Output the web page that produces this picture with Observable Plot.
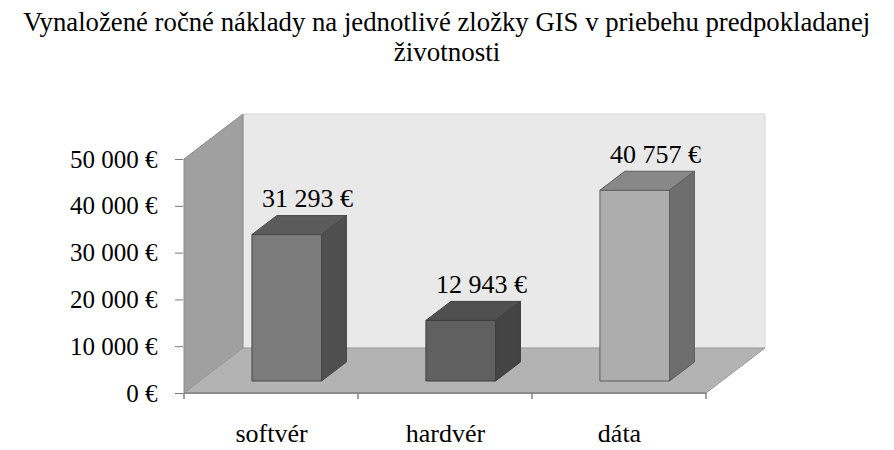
<!DOCTYPE html>
<html><head><meta charset="utf-8">
<script src="https://cdn.jsdelivr.net/npm/d3@7"></script>
<script src="https://cdn.jsdelivr.net/npm/@observablehq/plot@0.6"></script>
<style>
body{margin:0;background:#fff;width:894px;height:450px;overflow:hidden;font-family:"Liberation Serif","Times New Roman",serif;}
#title{height:80px;box-sizing:border-box;padding-top:7px;text-align:center;font-size:27px;line-height:30px;color:#000;white-space:nowrap;}
#title span{display:inline-block;}
#chart svg{display:block;}
</style></head><body>
<div id="title"><span id="t1">Vynaložené ročné náklady na jednotlivé zložky GIS v priebehu predpokladanej</span><br><span id="t2">životnosti</span></div>
<div id="chart"></div>
<script>
// ---- data ----
const categories = ["softvér", "hardvér", "dáta"];
const values = [31293, 12943, 40757];
const yTicks = [0, 10000, 20000, 30000, 40000, 50000];

// ---- styles ----
const frontColors = ["#7b7b7b", "#606060", "#adadad"];
const topColors = ["#5b5b5b", "#505050", "#888888"];
const sideColors = ["#4f4f4f", "#444444", "#6e6e6e"];
const strokeColors = ["#4a4a4a", "#3e3e3e", "#5e5e5e"];

const data = categories.map((c, i) => ({category: c, value: values[i]}));
const fmt = v => d3.format(",")(v).replace(/,/g, "\u00a0") + "\u00a0€";

// 3D box geometry (pixels)
const DX = 59, DY = 45;      // depth of the chart box
const F = 12 / 45;           // bar front position as depth fraction
const B = 19 / 45;           // bar depth as fraction
const BARW = 0.40;           // bar width as band fraction

const NS = "http://www.w3.org/2000/svg";
function el(tag, attrs) {
  const e = document.createElementNS(NS, tag);
  for (const k in attrs) e.setAttribute(k, attrs[k]);
  return e;
}
function poly(g, pts, fill, stroke, sw = 1) {
  g.appendChild(el("polygon", {points: pts.map(p => p.join(",")).join(" "), fill, stroke, "stroke-width": sw, "stroke-linejoin": "round"}));
}

function renderWalls(index, scales) {
  const g = el("g", {});
  const x = scales.x, y = scales.y;
  const bw = x(categories[1]) - x(categories[0]);
  const xl = x(categories[0]), xr = x(categories[categories.length - 1]) + bw;
  const y0 = y(0), y1 = y(yTicks[yTicks.length - 1]);
  poly(g, [[xl + DX, y0 - DY], [xr + DX, y0 - DY], [xr + DX, y1 - DY], [xl + DX, y1 - DY]], "#e9e9e9", "#d6d6d6");
  poly(g, [[xl, y0], [xl, y1], [xl + DX, y1 - DY], [xl + DX, y0 - DY]], "#a0a0a0", "#8a8a8a");
  poly(g, [[xl, y0], [xr, y0], [xr + DX, y0 - DY], [xl + DX, y0 - DY]], "#b3b3b3", "#9a9a9a");
  g.appendChild(el("line", {x1: xl, x2: xr, y1: y0, y2: y0, stroke: "#8c8c8c", "stroke-width": 2}));
  const bounds = categories.map(c => x(c)).concat([xr]);
  for (const xb of bounds) {
    g.appendChild(el("line", {x1: xb, x2: xb, y1: y0, y2: y0 + 6, stroke: "#808080", "stroke-width": 1.5}));
  }
  return g;
}

function renderBars(index, scales) {
  const g = el("g", {});
  const x = scales.x, y = scales.y;
  const bw = x(categories[1]) - x(categories[0]);
  for (const i of index) {
    const d = data[i];
    const w = BARW * bw;
    const cx = x(d.category) + bw / 2 + F * DX;
    const l = cx - w / 2, r = cx + w / 2;
    const yb = y(0) - F * DY, yt = y(d.value) - F * DY;
    const bx = B * DX, by = B * DY;
    const s = strokeColors[i];
    poly(g, [[l, yt], [r, yt], [r, yb], [l, yb]], frontColors[i], s);
    poly(g, [[l, yt], [r, yt], [r + bx, yt - by], [l + bx, yt - by]], topColors[i], s);
    poly(g, [[r, yt], [r, yb], [r + bx, yb - by], [r + bx, yt - by]], sideColors[i], s);
  }
  return g;
}

const plot = Plot.plot({
  width: 894,
  height: 370,
  marginLeft: 183,
  marginRight: 188,
  marginTop: 79,
  marginBottom: 57,
  style: {fontFamily: "'Liberation Serif','Times New Roman',serif", background: "transparent", color: "#000"},
  x: {domain: categories, padding: 0},
  y: {domain: [0, 50000]},
  marks: [
    Plot.frame({stroke: "none", render: renderWalls}),
    Plot.axisY({ticks: yTicks, tickFormat: fmt, tickSize: 8, tickPadding: 18, fontSize: 25, stroke: "#7a7a7a", label: null}),
    Plot.axisX({tickSize: 0, tickPadding: 30, fontSize: 26, label: null}),
    Plot.barY(data, {x: "category", y: "value", render: renderBars}),
    Plot.text(data, {x: "category", y: "value", text: d => fmt(d.value), dx: 36, dy: -48, fontSize: 26})
  ]
});
document.getElementById("chart").appendChild(plot);

// fit title line width to the reference
const t1 = document.getElementById("t1");
const w1 = t1.getBoundingClientRect().width;
if (w1 > 0) t1.style.transform = `scaleX(${847 / w1})`;
</script>
</body></html>
